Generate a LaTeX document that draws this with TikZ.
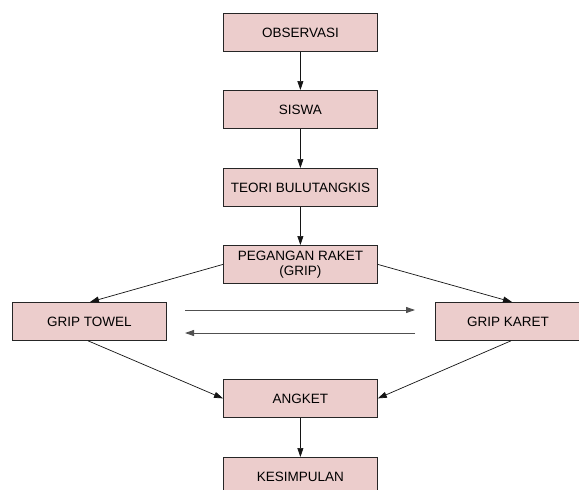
\documentclass[tikz,border=0pt]{standalone}
\usepackage{fontspec}
\setmainfont{Liberation Sans}
\usetikzlibrary{arrows.meta}
\definecolor{boxfill}{RGB}{236,205,204}
\definecolor{lnk}{RGB}{20,20,20}
\definecolor{grayarrow}{RGB}{80,80,80}
\begin{document}
\begin{tikzpicture}[x=1pt,y=-1pt,
  stepbox/.style={draw=black!85,fill=boxfill,line width=0.8pt,minimum width=154pt,minimum height=38pt,inner sep=0pt,align=center,font=\fontsize{13.5}{15}\selectfont,anchor=north west},
  conn/.style={draw=lnk,line width=0.7pt,-{Triangle[length=9pt,width=6pt]}},
  gconn/.style={draw=grayarrow,line width=0.9pt,-{Triangle[length=9pt,width=6pt]}}]
\useasboundingbox (0,0) rectangle (579,490);
\fill[white] (0,0) rectangle (579,490);
\node[stepbox] (obs) at (223,13) {OBSERVASI};
\node[stepbox] (sis) at (223,90) {SISWA};
\node[stepbox] (teo) at (223,168) {TEORI BULUTANGKIS};
\node[stepbox] (peg) at (223,245) {PEGANGAN RAKET\\(GRIP)};
\node[stepbox] (tow) at (12,302) {GRIP TOWEL};
\node[stepbox,minimum width=145pt] (kar) at (435,302) {GRIP KARET};
\node[stepbox] (ang) at (223,379) {ANGKET};
\node[stepbox] (kes) at (223,457) {KESIMPULAN};
\coordinate (a1) at (185,310);
\coordinate (a2) at (415,310);
\coordinate (b1) at (415,333);
\coordinate (b2) at (185,333);
\draw[conn] (obs.south) -- (sis.north);
\draw[conn] (sis.south) -- (teo.north);
\draw[conn] (teo.south) -- (peg.north);
\draw[conn] (peg.west) -- (tow.north -| 90,0);
\draw[conn] (peg.east) -- (kar.north -| 512,0);
\draw[conn] (tow.south -| 88,0) -- (ang.west);
\draw[conn] (kar.south -| 511,0) -- (ang.east);
\draw[conn] (ang.south) -- (kes.north);
\draw[gconn] (a1) -- (a2);
\draw[gconn] (b1) -- (b2);
\end{tikzpicture}
\end{document}
